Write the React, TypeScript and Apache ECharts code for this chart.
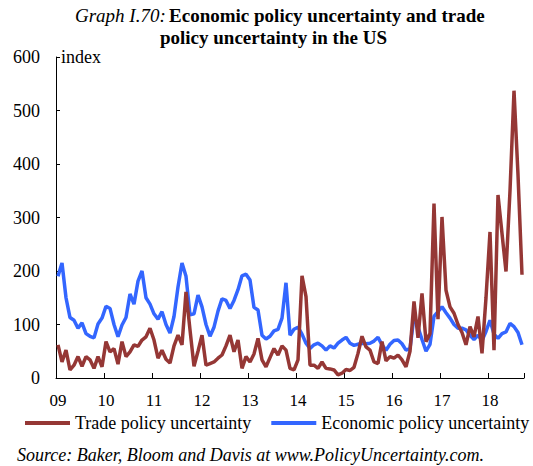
import React, { useEffect, useRef } from "react";
import * as echarts from "echarts";

const yearLabels = ["09", "10", "11", "12", "13", "14", "15", "16", "17", "18"];

// Monthly, Jan 2009 - Sep 2018
const months: string[] = [];
for (let y = 2009; y <= 2018; y++) {
  for (let m = 1; m <= 12; m++) {
    if (y === 2018 && m > 9) break;
    months.push(`${y}-${m < 10 ? "0" + m : m}`);
  }
}

const tradePolicy = [
  62, 30, 52, 15, 24, 40, 22, 40, 34, 18, 40, 21,
  68, 49, 55, 26, 68, 40, 49, 62, 59, 71, 77, 93,
  71, 37, 52, 35, 28, 60, 80, 62, 161, 90, 22, 50,
  80, 24, 27, 30, 37, 43, 60, 80, 49, 71, 18, 40,
  30, 45, 74, 34, 21, 38, 55, 43, 60, 52, 18, 15,
  34, 191, 152, 24, 24, 18, 30, 18, 17, 15, 6, 9,
  16, 14, 20, 46, 78, 58, 52, 30, 27, 68, 32, 40,
  37, 43, 34, 21, 50, 143, 75, 158, 68, 83, 326, 110,
  301, 164, 133, 121, 100, 85, 62, 96, 77, 115, 46, 150,
  273, 52, 342, 270, 199, 350, 537, 380, 193,
];

const economicPolicy = [
  190, 215, 150, 113, 108, 93, 103, 83, 78, 75, 101, 112,
  134, 130, 100, 77, 99, 113, 157, 138, 181, 200, 150, 138,
  120, 110, 124, 100, 84, 115, 170, 215, 190, 118, 120, 155,
  133, 100, 78, 95, 125, 148, 145, 130, 145, 165, 191, 194,
  183, 132, 127, 80, 73, 78, 88, 91, 112, 178, 80, 91,
  95, 82, 65, 55, 62, 65, 60, 52, 60, 56, 65, 71,
  76, 65, 61, 63, 65, 64, 65, 69, 76, 62, 52, 63,
  70, 71, 64, 52, 55, 115, 95, 72, 50, 63, 115, 124,
  133, 122, 112, 100, 93, 93, 90, 80, 72, 80, 70, 87,
  108, 82, 74, 83, 86, 102, 96, 85, 62,
];

const FONT = "Liberation Serif";
const RED = "#953735";
const BLUE = "#3366ff";

export default function App() {
  const ref = useRef<HTMLDivElement>(null);
  useEffect(() => {
    if (!ref.current) return;
    const chart = echarts.init(ref.current, undefined, { renderer: "svg" });
    chart.setOption({
      animation: false,
      backgroundColor: "#fff",
      textStyle: { fontFamily: FONT, color: "#000" },
      grid: { left: 56, right: 9, top: 57, bottom: 88, containLabel: false },
      legend: {
        left: 25,
        top: 414,
        width: 508,
        padding: 0,
        itemGap: 20,
        itemWidth: 45,
        itemHeight: 4,
        icon: "rect",
        textStyle: { fontFamily: FONT, fontSize: 18, color: "#000" },
        data: ["Trade policy uncertainty", "Economic policy uncertainty"],
      },
      graphic: [
        {
          type: "text",
          left: 61,
          top: 48,
          style: { text: "index", fontFamily: FONT, fontSize: 18, fill: "#000" },
        },
        {
          type: "text",
          left: 75,
          top: 6,
          style: {
            text: "{i|Graph I.70:} {b|Economic policy uncertainty and trade}",
            rich: {
              i: { fontFamily: FONT, fontStyle: "italic", fontSize: 19, fill: "#000" },
              b: { fontFamily: FONT, fontWeight: "bold", fontSize: 19, fill: "#000" },
            },
          },
        },
        {
          type: "text",
          left: 160,
          top: 28,
          style: { text: "policy uncertainty in the US", fontFamily: FONT, fontWeight: "bold", fontSize: 19, fill: "#000" },
        },
        {
          type: "text",
          left: 17,
          top: 446,
          style: {
            text: "Source: Baker, Bloom and Davis at www.PolicyUncertainty.com.",
            fontFamily: FONT,
            fontStyle: "italic",
            fontSize: 18,
            fill: "#000",
          },
        },
      ],
      xAxis: {
        type: "category",
        data: months,
        boundaryGap: true,
        axisLine: { show: true, lineStyle: { color: "#000", width: 1 } },
        axisTick: {
          show: true,
          inside: true,
          length: 5,
          interval: (i: number) => i % 12 === 0,
          lineStyle: { color: "#000" },
        },
        axisLabel: {
          interval: (i: number) => i % 12 === 0,
          formatter: (v: string) => yearLabels[parseInt(v.slice(0, 4)) - 2009],
          fontFamily: FONT,
          fontSize: 17,
          color: "#000",
          margin: 14,
        },
        splitLine: { show: false },
      },
      yAxis: {
        type: "value",
        min: 0,
        max: 600,
        interval: 100,
        axisLine: { show: true, lineStyle: { color: "#000", width: 1 } },
        axisTick: { show: true, inside: true, length: 4, lineStyle: { color: "#000" } },
        axisLabel: { fontFamily: FONT, fontSize: 18, color: "#000", margin: 16 },
        splitLine: { show: false },
      },
      series: [
        {
          name: "Trade policy uncertainty",
          type: "line",
          data: tradePolicy,
          showSymbol: false,
          symbol: "none",
          color: RED,
          lineStyle: { color: RED, width: 3.5 },
          z: 3,
        },
        {
          name: "Economic policy uncertainty",
          type: "line",
          data: economicPolicy,
          showSymbol: false,
          symbol: "none",
          color: BLUE,
          lineStyle: { color: BLUE, width: 3.5 },
          z: 2,
        },
      ],
    });
    return () => chart.dispose();
  }, []);
  return (
    <div
      ref={ref}
      style={{ position: "fixed", left: 0, top: 0, width: 533, height: 466 }}
    />
  );
}
